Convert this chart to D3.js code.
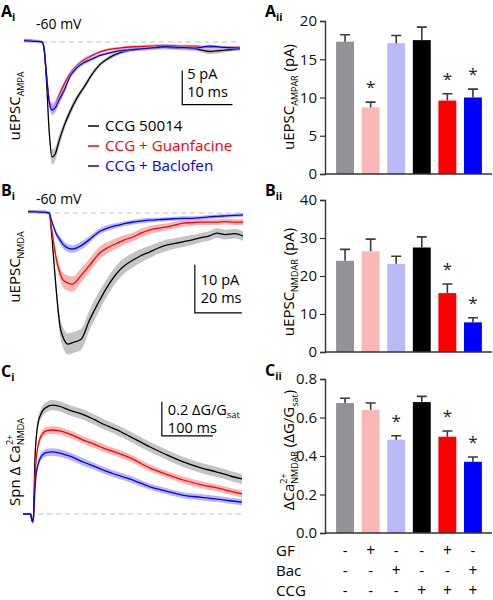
<!DOCTYPE html>
<html><head><meta charset="utf-8">
<script src="https://cdn.jsdelivr.net/npm/d3@7"></script>
<style>
html,body{margin:0;padding:0;background:#fff;}
svg text{font-family:'Open Sans',sans-serif;}
</style></head>
<body><svg id="c" width="493" height="600"></svg>
<script>
// ---------------- DATA ----------------
const conditions = ["CCG 50014", "CCG + Guanfacine", "CCG + Baclofen"];
const traceColors = ["#000000", "#ff0000", "#0000ff"];
const bandColors = ["#bababa", "#f6a9a9", "#a9a9f4"];

// Ai: AMPA uEPSC (time ms, current pA)
const aiTime = [0, 2, 3.6, 4.0, 4.5, 5.0, 5.6, 6.2, 7, 8, 9.2, 10.5, 12, 13.5, 15, 17, 19, 22, 25, 28, 31, 34, 37, 40, 43];
const aiBlack = [0.2, 0.1, 0, -1.0, -6, -13, -16.9, -16.5, -14.5, -12.3, -10.2, -8.3, -6.6, -4.8, -3.4, -2.3, -1.6, -1.1, -0.9, -0.8, -0.9, -1.0, -1.4, -1.2, -1.0];
const aiRed = [0.3, 0.2, 0, -1.0, -5, -8.5, -9.5, -9.2, -7.8, -6.2, -4.6, -3.5, -2.6, -2.0, -1.5, -1.1, -0.9, -0.7, -0.6, -0.5, -0.6, -0.6, -0.8, -0.8, -0.8];
const aiBlue = [0.2, 0.1, 0, -1.0, -5, -8.8, -10.0, -9.7, -8.5, -7.1, -5.0, -3.8, -3.0, -2.5, -2.0, -1.6, -1.3, -1.1, -0.9, -0.7, -0.8, -0.9, -0.6, -0.8, -0.9];
const aiBlackSem = [0.2, 0.2, 0.2, 0.3, 0.6, 0.9, 1.1, 1.0, 0.9, 0.7, 0.6, 0.5, 0.4, 0.4, 0.3, 0.3, 0.3, 0.3, 0.3, 0.3, 0.3, 0.3, 0.4, 0.3, 0.3];
const aiRedSem = [0.2, 0.2, 0.2, 0.3, 0.4, 0.5, 0.6, 0.6, 0.5, 0.4, 0.3, 0.3, 0.3, 0.2, 0.2, 0.2, 0.2, 0.2, 0.2, 0.2, 0.2, 0.2, 0.2, 0.2, 0.2];
const aiBlueSem = [0.2, 0.2, 0.2, 0.3, 0.4, 0.6, 0.7, 0.7, 0.6, 0.5, 0.4, 0.3, 0.3, 0.3, 0.2, 0.2, 0.2, 0.2, 0.2, 0.2, 0.2, 0.2, 0.2, 0.2, 0.2];

// Bi: NMDA uEPSC (time ms, current pA)
const biTime = [0, 5, 9.0, 10, 11, 12, 13.6, 15, 17, 19, 22.6, 26, 30.6, 34, 37.9, 41, 44.7, 48, 51.9, 55, 59, 62, 66, 70, 73, 77, 80.4, 84, 88, 91.5];
const biBlack = [0.3, 0.3, 0, -4, -10, -16, -23.5, -26, -27.3, -27, -26.3, -22.5, -18.1, -15.2, -12.5, -11.0, -9.8, -8.9, -8.1, -7.4, -6.7, -6.4, -6.0, -5.6, -5.2, -4.8, -4.2, -4.5, -4.3, -4.8];
const biRed = [0.4, 0.3, 0, -3, -6.5, -9.5, -12.5, -14, -14.6, -14.8, -13, -11.0, -8.3, -7.2, -6.3, -5.6, -5.0, -4.2, -3.5, -3.2, -2.9, -2.6, -2.1, -2.0, -1.9, -1.9, -1.9, -1.8, -1.9, -1.9];
const biBlue = [0.3, 0.2, 0, -1.5, -3.0, -4.3, -5.6, -6.6, -7.3, -7.5, -6.8, -5.6, -3.8, -3.1, -2.6, -2.2, -1.9, -1.7, -1.5, -1.4, -1.3, -1.2, -1.1, -1.1, -1.0, -0.8, -0.7, -0.6, -0.5, -0.4];
const biBlackSem = [0.3, 0.3, 0.3, 0.6, 1.0, 1.5, 1.9, 2.1, 2.2, 2.2, 2.2, 2.1, 2.0, 1.8, 1.7, 1.6, 1.5, 1.4, 1.3, 1.2, 1.2, 1.1, 1.1, 1.0, 1.0, 1.0, 1.0, 1.0, 1.0, 1.0];
const biRedSem = [0.3, 0.3, 0.3, 0.5, 0.8, 1.1, 1.3, 1.5, 1.6, 1.6, 1.5, 1.4, 1.3, 1.2, 1.1, 1.0, 0.9, 0.9, 0.8, 0.8, 0.7, 0.7, 0.7, 0.7, 0.6, 0.6, 0.6, 0.6, 0.6, 0.6];
const biBlueSem = [0.3, 0.3, 0.3, 0.4, 0.5, 0.6, 0.7, 0.8, 0.8, 0.8, 0.8, 0.7, 0.6, 0.6, 0.5, 0.5, 0.5, 0.5, 0.5, 0.4, 0.4, 0.4, 0.4, 0.4, 0.4, 0.4, 0.4, 0.4, 0.4, 0.4];

// Ci: spine NMDA Ca2+ (time ms, dG/Gsat)
const ciTime = [0, 15, 17, 18.6, 20.5, 22, 23.5, 26, 29.4, 34, 39, 47, 57, 70, 92, 118, 140, 160, 184, 210, 249, 280, 314, 350, 380, 405, 429];
const ciBlack = [0, 0, -0.03, -0.047, -0.02, 0.15, 0.33, 0.45, 0.535, 0.58, 0.61, 0.63, 0.64, 0.635, 0.61, 0.585, 0.555, 0.525, 0.495, 0.455, 0.394, 0.35, 0.306, 0.27, 0.247, 0.225, 0.206];
const ciRed = [0, 0, -0.03, -0.047, -0.02, 0.1, 0.22, 0.33, 0.40, 0.45, 0.475, 0.49, 0.494, 0.49, 0.47, 0.435, 0.41, 0.385, 0.36, 0.33, 0.27, 0.235, 0.2, 0.172, 0.153, 0.135, 0.118];
const ciBlue = [0, 0, -0.03, -0.047, -0.02, 0.07, 0.15, 0.24, 0.29, 0.33, 0.35, 0.362, 0.365, 0.36, 0.34, 0.306, 0.28, 0.255, 0.23, 0.205, 0.16, 0.135, 0.11, 0.098, 0.088, 0.078, 0.07];
const ciBlackSem = [0.005, 0.005, 0.008, 0.01, 0.01, 0.02, 0.025, 0.028, 0.03, 0.03, 0.03, 0.03, 0.03, 0.03, 0.03, 0.03, 0.03, 0.03, 0.03, 0.03, 0.03, 0.03, 0.03, 0.03, 0.03, 0.03, 0.03];
const ciRedSem = [0.005, 0.005, 0.008, 0.01, 0.01, 0.015, 0.018, 0.02, 0.022, 0.022, 0.022, 0.022, 0.022, 0.022, 0.022, 0.022, 0.022, 0.022, 0.022, 0.022, 0.02, 0.02, 0.02, 0.02, 0.02, 0.02, 0.02];
const ciBlueSem = [0.005, 0.005, 0.008, 0.01, 0.01, 0.015, 0.018, 0.02, 0.022, 0.022, 0.022, 0.022, 0.022, 0.022, 0.022, 0.022, 0.02, 0.02, 0.02, 0.02, 0.018, 0.018, 0.018, 0.018, 0.018, 0.018, 0.018];

// Bar charts
const barGroups = ["g1", "g2", "g3", "g4", "g5", "g6"];
const barColors = ["#939297", "#f9b8b8", "#b9b9f7", "#000000", "#ff0000", "#0000ff"];
const ampaMean = [17.3, 8.7, 17.1, 17.5, 9.6, 10.0];
const ampaSem = [0.9, 0.7, 1.0, 1.7, 0.9, 1.1];
const ampaSig = [false, true, false, false, true, true];
const ampaTicks = [0, 5, 10, 15, 20];
const nmdaMean = [24.0, 26.5, 23.2, 27.5, 15.5, 7.8];
const nmdaSem = [3.0, 3.2, 2.0, 2.8, 2.4, 1.2];
const nmdaSig = [false, false, false, false, true, true];
const nmdaTicks = [0, 10, 20, 30, 40];
const caMean = [0.675, 0.64, 0.485, 0.68, 0.50, 0.37];
const caSem = [0.025, 0.035, 0.02, 0.03, 0.03, 0.025];
const caSig = [false, false, true, false, true, true];
const caTicks = [0, 0.2, 0.4, 0.6, 0.8];

const rowLabels = ["GF", "Bac", "CCG"];
const gfSigns = ["-", "+", "-", "-", "+", "-"];
const bacSigns = ["-", "-", "+", "-", "-", "+"];
const ccgSigns = ["-", "-", "-", "+", "+", "+"];

// ---------------- DRAW ----------------
const svg = d3.select("#c");

function panelLabel(x, y, letter, sub) {
  const t = svg.append("text").attr("x", x).attr("y", y)
    .attr("font-size", 16).attr("font-weight", "bold").text(letter);
  t.append("tspan").attr("font-size", 10.5).attr("dy", 4).text(sub);
}
panelLabel(1, 17, "A", "i");
panelLabel(1, 196, "B", "i");
panelLabel(1, 377, "C", "i");
panelLabel(265, 17, "A", "ii");
panelLabel(265, 196, "B", "ii");
panelLabel(265, 376, "C", "ii");

function tracePanel(opt) {
  const x = d3.scaleLinear().domain(opt.xDomain).range(opt.xRange);
  const y = d3.scaleLinear().domain(opt.yDomain).range(opt.yRange);
  const g = svg.append("g");
  g.append("line").attr("x1", opt.dashStart !== undefined ? opt.dashStart : x(opt.xDomain[0]))
    .attr("x2", x(opt.xDomain[1])).attr("y1", y(0)).attr("y2", y(0))
    .attr("stroke", "#c2c2c2").attr("stroke-width", 1.2).attr("stroke-dasharray", "5,4");
  opt.series.forEach((s, k) => {
    const pts = opt.time.map((t, i) => ({t, v: s.v[i], e: s.e[i]}));
    const area = d3.area().x(d => x(d.t)).y0(d => y(d.v - d.e)).y1(d => y(d.v + d.e)).curve(d3.curveMonotoneX);
    g.append("path").datum(pts).attr("d", area).attr("fill", bandColors[k]).attr("opacity", 0.85);
    const line = d3.line().x(d => x(d.t)).y(d => y(d.v)).curve(d3.curveMonotoneX);
    g.append("path").datum(pts).attr("d", line).attr("fill", "none")
      .attr("stroke", traceColors[k]).attr("stroke-width", 1.3);
  });
  const sb = opt.scaleBar;
  const x0 = x(sb.t), y0 = y(sb.v);
  const hLen = x(sb.t + sb.dt) - x0;
  const vLen = y(sb.v - sb.dv) - y0;
  g.append("path").attr("d", `M${x0},${y0 - vLen}V${y0}H${x0 + hLen}`)
    .attr("fill", "none").attr("stroke", "#000").attr("stroke-width", 1.2);
  return {x, y, g, x0, y0, vLen, hLen};
}

// Ai
const pA = tracePanel({
  time: aiTime, xDomain: [0, 43], xRange: [24, 240], yDomain: [0, -20], yRange: [42, 178],
  series: [{v: aiBlack, e: aiBlackSem}, {v: aiRed, e: aiRedSem}, {v: aiBlue, e: aiBlueSem}],
  scaleBar: {t: 31.5, v: -9.2, dt: 10, dv: 5}
});
svg.append("text").attr("x", pA.x0 + 5).attr("y", pA.y0 - pA.vLen + 8).attr("font-size", 14.5).text("5 pA");
svg.append("text").attr("x", pA.x0 + 5).attr("y", pA.y0 - 8).attr("font-size", 14.5).text("10 ms");
svg.append("text").attr("x", 36).attr("y", 29).attr("font-size", 14).text("-60 mV");

// legend
conditions.forEach((c, i) => {
  const ly = 126 + i * 20;
  svg.append("line").attr("x1", 88).attr("x2", 99).attr("y1", ly).attr("y2", ly)
    .attr("stroke", traceColors[i]).attr("stroke-width", 1.5);
  svg.append("text").attr("x", 105).attr("y", ly + 5).attr("font-size", 15.2)
    .attr("fill", traceColors[i]).text(c);
});

// Bi
const pB = tracePanel({
  time: biTime, xDomain: [0, 91.5], xRange: [28, 243], yDomain: [0, -30], yRange: [213, 357],
  series: [{v: biBlack, e: biBlackSem}, {v: biRed, e: biRedSem}, {v: biBlue, e: biBlueSem}],
  scaleBar: {t: 71, v: -20.8, dt: 20, dv: 10}
});
svg.append("text").attr("x", pB.x0 + 6).attr("y", pB.y0 - pB.vLen + 20).attr("font-size", 14.5).text("10 pA");
svg.append("text").attr("x", pB.x0 + 6).attr("y", pB.y0 - 10).attr("font-size", 14.5).text("20 ms");
svg.append("text").attr("x", 36).attr("y", 204).attr("font-size", 14).text("-60 mV");

// Ci
const pC = tracePanel({
  time: ciTime, xDomain: [0, 429], xRange: [23, 242], yDomain: [0, 0.7], yRange: [514, 395], dashStart: 38,
  series: [{v: ciBlack, e: ciBlackSem}, {v: ciRed, e: ciRedSem}, {v: ciBlue, e: ciBlueSem}],
  scaleBar: {t: 272, v: 0.46, dt: 100, dv: 0.2}
});
{
  const t = svg.append("text").attr("x", pC.x0 + 6).attr("y", pC.y0 - pC.vLen + 13).attr("font-size", 14.5);
  t.append("tspan").text("0.2 \u0394G/G");
  t.append("tspan").attr("font-size", 9.5).attr("dy", 3).text("sat");
  svg.append("text").attr("x", pC.x0 + 6).attr("y", pC.y0 - 3).attr("font-size", 14.5).text("100 ms");
}

function rotLabel(cx, cy, parts, size) {
  const t = svg.append("text").attr("transform", `translate(${cx},${cy}) rotate(-90)`)
    .attr("text-anchor", "middle").attr("font-size", size);
  parts(t);
  return t;
}
rotLabel(20, 106, t => {
  t.append("tspan").text("uEPSC");
  t.append("tspan").attr("font-size", 9).attr("dy", 4).text("AMPA");
}, 15);
rotLabel(20, 267, t => {
  t.append("tspan").text("uEPSC");
  t.append("tspan").attr("font-size", 9).attr("dy", 4).text("NMDA");
}, 15);
{
  const t = rotLabel(20, 462, t => {
    t.append("tspan").text("Spn \u0394 Ca");
    t.append("tspan").attr("class", "sup").attr("font-size", 9).attr("dy", -7).text("2+");
    t.append("tspan").attr("class", "sub").attr("font-size", 9).attr("dy", 11).text("NMDA");
  }, 15);
  const w = t.select(".sup").node().getComputedTextLength();
  t.select(".sub").attr("dx", -w);
}

// Bar charts
const xb = d3.scaleBand().domain(barGroups).range([331, 487]).paddingInner(0.3).paddingOuter(0.2);

function barPanel(mean, sem, sig, ticks, yRange, fmt, labelCy, labelFn) {
  const y = d3.scaleLinear().domain([ticks[0], ticks[ticks.length - 1]]).range(yRange);
  const g = svg.append("g");
  g.selectAll("rect.bar").data(mean).join("rect")
    .attr("x", (d, i) => xb(barGroups[i])).attr("width", xb.bandwidth())
    .attr("y", d => y(d)).attr("height", d => y(0) - y(d)).attr("fill", (d, i) => barColors[i]);
  mean.forEach((m, i) => {
    const cx = xb(barGroups[i]) + xb.bandwidth() / 2;
    g.append("path").attr("d", `M${cx},${y(m)}V${y(m + sem[i])}M${cx - 5},${y(m + sem[i])}H${cx + 5}`)
      .attr("stroke", "#3a3a3a").attr("stroke-width", 1.6).attr("fill", "none");
    if (sig[i]) {
      g.append("text").attr("x", cx).attr("y", y(m + sem[i]) - 9).attr("text-anchor", "middle")
        .attr("font-size", 17).attr("fill", "#222").text("*");
    }
  });
  const ax = g.append("g").attr("transform", "translate(325,0)")
    .call(d3.axisLeft(y).tickValues(ticks).tickFormat(fmt).tickSize(5).tickPadding(3));
  ax.select(".domain").attr("stroke", "#333").attr("stroke-width", 1.4);
  ax.selectAll(".tick line").attr("stroke", "#333").attr("stroke-width", 1.2);
  ax.selectAll(".tick text").attr("font-size", 15).attr("font-family", "'Open Sans',sans-serif").attr("fill", "#111");
  g.append("line").attr("x1", 325).attr("x2", 492).attr("y1", y(0)).attr("y2", y(0))
    .attr("stroke", "#333").attr("stroke-width", 1.4);
  const t = svg.append("text").attr("transform", `translate(294,${labelCy}) rotate(-90)`)
    .attr("text-anchor", "middle").attr("font-size", 15);
  labelFn(t);
  return y;
}

barPanel(ampaMean, ampaSem, ampaSig, ampaTicks, [174, 21], d3.format("d"), 97, t => {
  t.append("tspan").text("uEPSC");
  t.append("tspan").attr("font-size", 9).attr("dy", 4).text("AMPAR");
  t.append("tspan").attr("dy", -4).text(" (pA)");
});
barPanel(nmdaMean, nmdaSem, nmdaSig, nmdaTicks, [352, 200], d3.format("d"), 282, t => {
  t.append("tspan").text("uEPSC");
  t.append("tspan").attr("font-size", 9).attr("dy", 4).text("NMDAR");
  t.append("tspan").attr("dy", -4).text(" (pA)");
});
{
  let tt;
  barPanel(caMean, caSem, caSig, caTicks, [533, 379], d3.format(".1f"), 450, t => {
    tt = t;
    t.append("tspan").text("\u0394Ca");
    t.append("tspan").attr("class", "sup").attr("font-size", 9).attr("dy", -7).text("2+");
    t.append("tspan").attr("class", "sub").attr("font-size", 9).attr("dy", 11).text("NMDAR");
    t.append("tspan").attr("dy", -4).text(" (\u0394G/G");
    t.append("tspan").attr("font-size", 9).attr("dy", 4).text("sat");
    t.append("tspan").attr("dy", -4).text(")");
  });
  const w = tt.select(".sup").node().getComputedTextLength();
  tt.select(".sub").attr("dx", -w);
}

// condition table
const signRows = [gfSigns, bacSigns, ccgSigns];
rowLabels.forEach((lab, r) => {
  const ry = 556 + r * 20;
  svg.append("text").attr("x", 276).attr("y", ry).attr("font-size", 15).text(lab);
  signRows[r].forEach((s, i) => {
    svg.append("text").attr("x", xb(barGroups[i]) + xb.bandwidth() / 2).attr("y", ry)
      .attr("text-anchor", "middle").attr("font-size", s === "+" ? 15.5 : 15).text(s);
  });
});
</script></body></html>
